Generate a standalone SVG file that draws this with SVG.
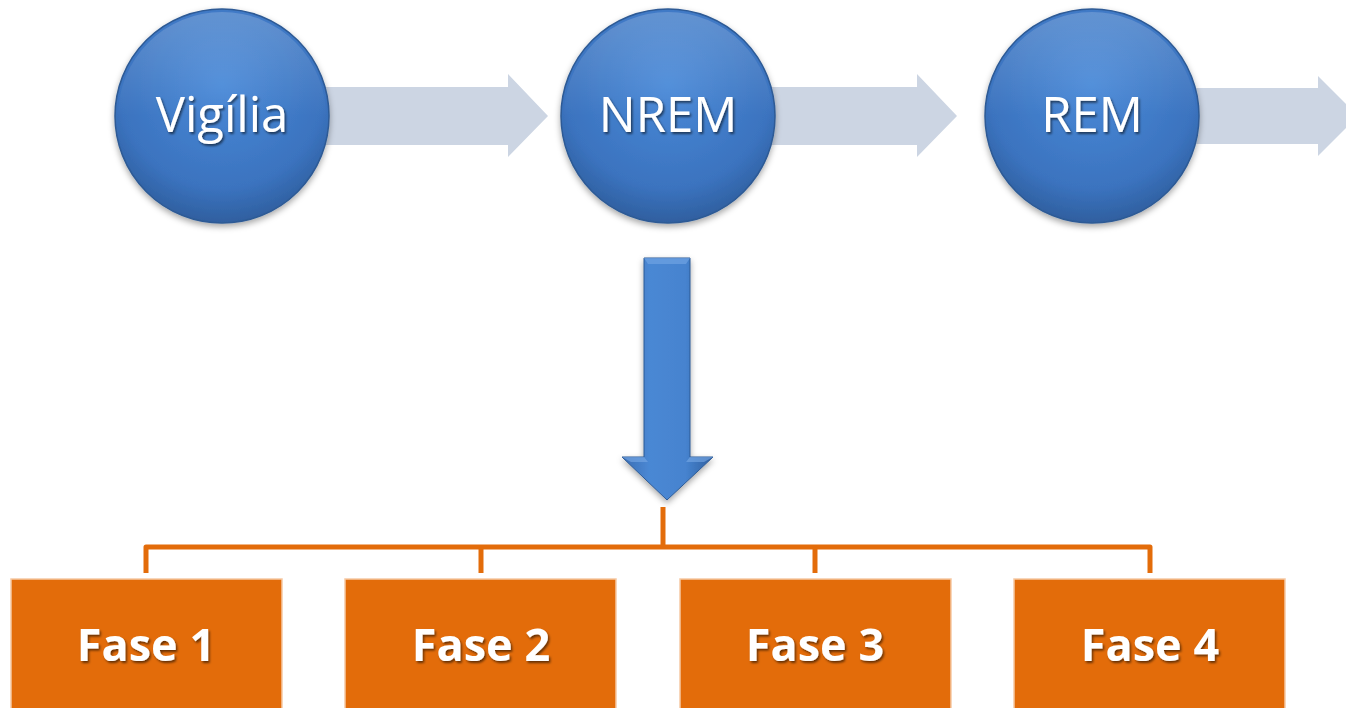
<svg xmlns="http://www.w3.org/2000/svg" width="1346" height="708" viewBox="0 0 1346 708">
<defs>
<radialGradient id="circ" cx="0.5" cy="0.35" r="0.65">
<stop offset="0" stop-color="#4a8ad8"/>
<stop offset="0.75" stop-color="#3b73bf"/>
<stop offset="1" stop-color="#2f5f9f"/>
</radialGradient>
<linearGradient id="circTop" x1="0" y1="0" x2="0" y2="1">
<stop offset="0" stop-color="#ffffff" stop-opacity="0.18"/>
<stop offset="0.5" stop-color="#ffffff" stop-opacity="0"/>
</linearGradient>
<linearGradient id="down" x1="0" y1="0" x2="1" y2="0">
<stop offset="0" stop-color="#3a6db3"/>
<stop offset="0.3" stop-color="#4a88d4"/>
<stop offset="0.7" stop-color="#4683cf"/>
<stop offset="1" stop-color="#2f5f9f"/>
</linearGradient>
<filter id="sh" x="-20%" y="-20%" width="140%" height="150%">
<feDropShadow dx="0" dy="3" stdDeviation="3" flood-color="#000" flood-opacity="0.35"/>
</filter>
<filter id="tsh" x="-10%" y="-10%" width="120%" height="130%">
<feDropShadow dx="1.5" dy="2" stdDeviation="1.2" flood-color="#000" flood-opacity="0.55"/>
</filter>
</defs>
<style>
.harrow{fill:#ccd5e3;}
.circle{fill:url(#circ);stroke:#2d5a95;stroke-width:1.5;}
.ctext{font-family:"Open Sans","Liberation Sans",sans-serif;font-size:49px;fill:#ffffff;text-anchor:middle;}
.box{fill:#e36c0a;stroke:#f6c9a4;stroke-width:1.5;}
.btext{font-family:"Open Sans","Liberation Sans",sans-serif;font-weight:bold;font-size:45px;fill:#ffffff;text-anchor:middle;}
.conn{fill:none;stroke:#e36c0a;stroke-width:5;stroke-linejoin:round;}
</style>
<rect width="1346" height="708" fill="#ffffff"/>
<g id="connectors">
<polygon class="harrow" points="320,87 508,87 508,74 548,116 508,157 508,145 320,145"/>
<polygon class="harrow" points="765,87 917,87 917,74 957,116 917,157 917,145 765,145"/>
<polygon class="harrow" points="1190,88 1318,88 1318,76 1358,116 1318,156 1318,144 1190,144"/>
<g id="down-arrow" filter="url(#sh)">
<polygon points="644,258 690,258 690,457 713,457 667,500 622,457 644,457" fill="url(#down)" stroke="#2d5a95" stroke-width="1"/>
<polygon points="644,258 690,258 686,264 648,264" fill="#6fa3e3" opacity="0.7"/>
<polygon points="622,457 644,457 648,462 631,462" fill="#7aaae6" opacity="0.6"/>
<polygon points="690,457 713,457 704,462 686,462" fill="#7aaae6" opacity="0.6"/>
</g>
<path class="conn" d="M663,507 V547"/>
<path class="conn" d="M146,573 V547 H1150 V573"/>
<path class="conn" d="M481,547 V573"/>
<path class="conn" d="M815,547 V573"/>
</g>
<g id="node-vigilia">
<circle class="circle" cx="222" cy="116" r="107" filter="url(#sh)"/>
<circle cx="222" cy="116" r="104" fill="url(#circTop)"/>
<text class="ctext" x="222" y="132" filter="url(#tsh)">Vigília</text>
</g>
<g id="node-nrem">
<circle class="circle" cx="668" cy="116" r="107" filter="url(#sh)"/>
<circle cx="668" cy="116" r="104" fill="url(#circTop)"/>
<text class="ctext" x="668" y="132" filter="url(#tsh)">NREM</text>
</g>
<g id="node-rem">
<circle class="circle" cx="1092" cy="116" r="107" filter="url(#sh)"/>
<circle cx="1092" cy="116" r="104" fill="url(#circTop)"/>
<text class="ctext" x="1092" y="132" filter="url(#tsh)">REM</text>
</g>
<g id="node-fase1">
<rect class="box" x="11" y="579" width="271" height="135"/>
<text class="btext" x="146" y="661" filter="url(#tsh)">Fase 1</text>
</g>
<g id="node-fase2">
<rect class="box" x="345" y="579" width="271" height="135"/>
<text class="btext" x="481" y="661" filter="url(#tsh)">Fase 2</text>
</g>
<g id="node-fase3">
<rect class="box" x="680" y="579" width="271" height="135"/>
<text class="btext" x="815" y="661" filter="url(#tsh)">Fase 3</text>
</g>
<g id="node-fase4">
<rect class="box" x="1014" y="579" width="271" height="135"/>
<text class="btext" x="1150" y="661" filter="url(#tsh)">Fase 4</text>
</g>
</svg>
